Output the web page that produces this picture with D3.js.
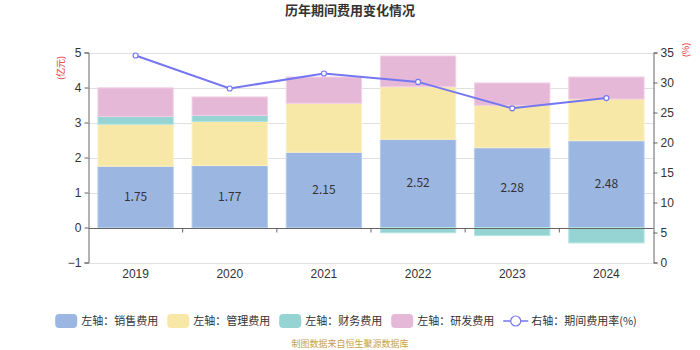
<!DOCTYPE html>
<html><head><meta charset="utf-8">
<script src="https://cdn.jsdelivr.net/npm/d3@7/dist/d3.min.js"></script>
<style>body{margin:0;background:#fff;font-family:"Microsoft YaHei","Noto Sans CJK SC",sans-serif;}</style>
</head><body><svg id="c" width="700" height="350"></svg>
<script>
const years = ["2019","2020","2021","2022","2023","2024"];
const sales = [1.75, 1.77, 2.15, 2.52, 2.28, 2.48];
const mgmt = [1.20, 1.26, 1.40, 1.50, 1.21, 1.19];
const finance = [0.22, 0.17, 0.00, -0.15, -0.23, -0.44];
const rnd = [0.82, 0.53, 0.75, 0.88, 0.64, 0.63];
const rate = [34.5, 29.0, 31.5, 30.1, 25.7, 27.4];
const leftTicks = [-1, 0, 1, 2, 3, 4, 5];
const rightTicks = [0, 5, 10, 15, 20, 25, 30, 35];
const seriesNames = ["左轴：销售费用","左轴：管理费用","左轴：财务费用","左轴：研发费用"];
const lineName = "右轴：期间费用率(%)";
const colors = ["#9bb7e1","#f8e8a8","#95d4d2","#e6b8d7"];
const strokes = ["#b4cbee","#fcf1c4","#b2e4e2","#f2cfe6"];
const lineColor = "#7576f2";

const svg = d3.select("#c");
const L = 88.5, R = 653.5, T = 52.5, B = 262.5;
const x = d3.scaleBand().domain(years).range([L, R]).paddingInner(0).paddingOuter(0);
const y = d3.scaleLinear().domain([-1, 5]).range([B, T]);
const y2 = d3.scaleLinear().domain([0, 35]).range([B, T]);
const barW = x.bandwidth() * 0.8;

// title
svg.append("text").attr("x", 350).attr("y", 15).attr("text-anchor", "middle")
  .attr("font-size", 13).attr("font-weight", "bold").attr("fill", "#333").text("历年期间费用变化情况");

// gridlines
svg.append("g").selectAll("line").data(leftTicks).join("line")
  .attr("x1", L).attr("x2", R).attr("y1", d => Math.round(y(d)) + 0.5).attr("y2", d => Math.round(y(d)) + 0.5)
  .attr("stroke", "#e0e0e0").attr("stroke-width", 1);

// stacked bars
const rows = years.map((yr, i) => ({year: yr, s0: sales[i], s1: mgmt[i], s2: finance[i], s3: rnd[i]}));
const stack = d3.stack().keys(["s0","s1","s2","s3"]).offset(d3.stackOffsetDiverging);
const stacked = stack(rows);
stacked.forEach((layer, k) => {
  svg.append("g").selectAll("rect").data(layer).join("rect")
    .attr("x", d => x(d.data.year) + (x.bandwidth() - barW) / 2)
    .attr("width", barW)
    .attr("y", d => y(Math.max(d[0], d[1])))
    .attr("height", d => Math.abs(y(d[0]) - y(d[1])))
    .attr("fill", colors[k]).attr("stroke", strokes[k]).attr("stroke-width", 1);
});

// bar labels
svg.append("g").selectAll("text").data(rows).join("text")
  .attr("x", d => x(d.year) + x.bandwidth() / 2)
  .attr("y", d => y(d.s0 / 2) + 4)
  .attr("text-anchor", "middle").attr("font-size", 12).attr("fill", "#333")
  .text(d => d.s0.toFixed(2));

// left axis
const ax = svg.append("g").attr("transform", `translate(${L},0)`)
  .call(d3.axisLeft(y).tickValues(leftTicks).tickSize(4).tickFormat(d3.format("d")));
ax.select(".domain").attr("stroke", "#666");
ax.selectAll(".tick line").attr("stroke", "#666");
ax.selectAll("text").attr("font-size", 12).attr("fill", "#333").attr("font-family", "sans-serif");

// right axis
const ax2 = svg.append("g").attr("transform", `translate(${R},0)`)
  .call(d3.axisRight(y2).tickValues(rightTicks).tickSize(4));
ax2.select(".domain").attr("stroke", "#666");
ax2.selectAll(".tick line").attr("stroke", "#666");
ax2.selectAll("text").attr("font-size", 12).attr("fill", "#333").attr("font-family", "sans-serif");

// x axis at zero
const xg = svg.append("g").attr("transform", `translate(0,${Math.round(y(0)) + 0.5})`);
xg.append("line").attr("x1", L).attr("x2", R).attr("stroke", "#666");
xg.selectAll("line.t").data(years.slice(1)).join("line").attr("class", "t")
  .attr("x1", d => x(d)).attr("x2", d => x(d)).attr("y1", 0).attr("y2", 4).attr("stroke", "#666");
svg.append("g").selectAll("text").data(years).join("text")
  .attr("x", d => x(d) + x.bandwidth() / 2).attr("y", B + 15)
  .attr("text-anchor", "middle").attr("font-size", 12).attr("fill", "#333").attr("font-family", "sans-serif")
  .text(d => d);

// unit labels
svg.append("text").attr("transform", `translate(64,68) rotate(-90)`).attr("text-anchor", "middle")
  .attr("font-size", 9).attr("fill", "#e83030").text("(亿元)");
svg.append("text").attr("transform", `translate(689,50) rotate(-90)`).attr("text-anchor", "middle")
  .attr("font-size", 9).attr("fill", "#e83030").text("(%)");

// line
const line = d3.line().x((d, i) => x(years[i]) + x.bandwidth() / 2).y(d => y2(d));
svg.append("path").datum(rate).attr("d", line).attr("fill", "none").attr("stroke", lineColor).attr("stroke-width", 2);
svg.append("g").selectAll("circle").data(rate).join("circle")
  .attr("cx", (d, i) => x(years[i]) + x.bandwidth() / 2).attr("cy", d => y2(d)).attr("r", 2.5)
  .attr("fill", "#fff").attr("stroke", lineColor).attr("stroke-width", 1.2);

// legend
const lg = svg.append("g");
let lx = 0;
const ly = 321;
seriesNames.forEach((name, k) => {
  lg.append("rect").attr("x", lx).attr("y", ly - 7).attr("width", 22).attr("height", 14).attr("rx", 4)
    .attr("fill", colors[k]);
  const t = lg.append("text").attr("x", lx + 26).attr("y", ly + 4).attr("font-size", 11).attr("fill", "#333").text(name);
  lx += 26 + t.node().getComputedTextLength() + 9;
});
lg.append("line").attr("x1", lx).attr("x2", lx + 25).attr("y1", ly).attr("y2", ly).attr("stroke", lineColor).attr("stroke-width", 1.5);
lg.append("circle").attr("cx", lx + 12.5).attr("cy", ly).attr("r", 5).attr("fill", "#fff").attr("stroke", lineColor).attr("stroke-width", 1.2);
const lt = lg.append("text").attr("x", lx + 28).attr("y", ly + 4).attr("font-size", 11).attr("fill", "#333").text(lineName);
const totalW = lx + 28 + lt.node().getComputedTextLength();
lg.attr("transform", `translate(${(692 - totalW) / 2},0)`);

// source
svg.append("text").attr("x", 350).attr("y", 347).attr("text-anchor", "middle").attr("font-size", 9)
  .attr("fill", "#c9a04a").text("制图数据来自恒生聚源数据库");
</script></body></html>
